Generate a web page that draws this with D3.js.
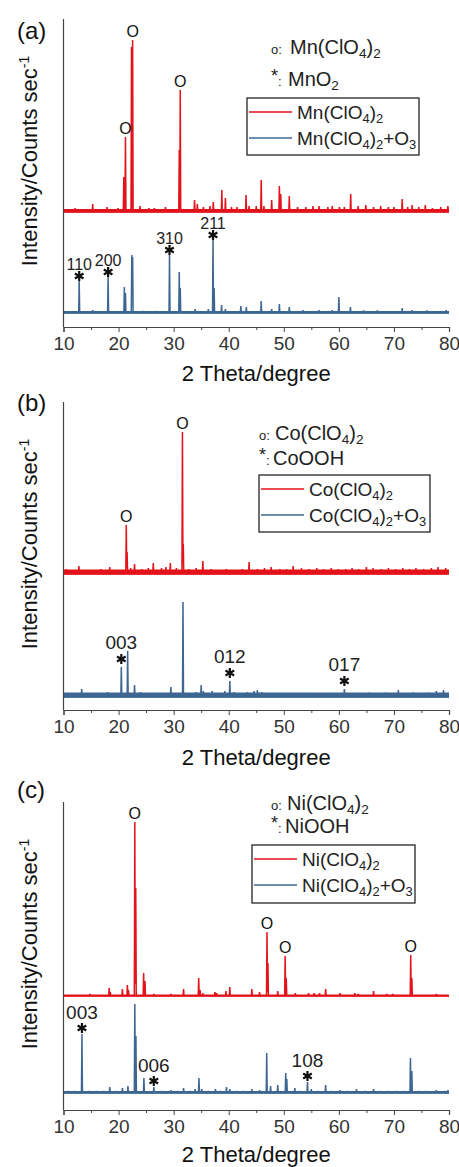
<!DOCTYPE html>
<html>
<head>
<meta charset="utf-8">
<script src="https://cdn.jsdelivr.net/npm/d3@7"></script>
<style>
  body { margin: 0; background: #fff; }
  svg { display: block; font-family: "Liberation Sans", Arial, sans-serif; }
</style>
</head>
<body>
<svg id="chart" width="459" height="1167"></svg>
<script>
// peaks: [2theta (deg), height above own baseline (counts)]
const mnPeaks = [[12.1,40],[13.4,30],[15.3,80],[17.9,50],[19.9,40],[20.95,350],[21.25,750],[22.35,1650],[22.55,1720],
  [23.9,60],[25.5,40],[26.5,40],[28.5,50],[31.02,620],[31.2,1220],[33.8,120],[34.3,80],[35.4,50],[36.6,60],[37.2,100],
  [38.75,220],[39.4,140],[40.5,50],[41.5,50],[43.15,170],[43.7,60],[45.0,60],[45.9,320],[46.4,60],[47.8,120],[49.2,260],
  [49.45,180],[51.0,160],[52.5,50],[54.0,50],[55.3,60],[56.4,60],[58.0,50],[58.8,60],[60.1,50],[61.0,50],[62.15,180],
  [63.5,60],[64.9,70],[66.3,50],[67.6,60],[69.0,50],[70.0,50],[71.5,130],[72.5,50],[73.3,70],[74.5,50],[75.7,70],
  [77.0,40],[78.5,50],[79.8,60]];
const mnO3Peaks = [[12.85,320],[15.3,30],[18.1,360],[21.05,260],[21.25,200],[22.4,580],[22.55,560],[24.5,20],[26.8,20],
  [29.25,580],[31.02,410],[31.2,250],[33.9,40],[36.3,40],[37.15,730],[37.35,250],[38.7,80],[39.4,40],[42.2,70],[43.2,60],
  [45.9,120],[47.8,40],[49.2,90],[51.0,60],[53.5,30],[56.4,30],[58.8,30],[60.0,160],[62.1,60],[64.5,25],[67.0,25],
  [71.5,50],[73.3,30],[76.0,25],[79.5,30]];
const coPeaks = [[10.5,50],[11.5,40],[12.8,80],[14.5,40],[16.8,50],[18.4,70],[19.5,40],[21.4,490],[21.55,220],[22.2,60],
  [22.9,100],[24.2,50],[25.4,60],[26.3,110],[27.8,60],[28.6,70],[29.4,110],[30.5,60],[31.6,1420],[31.75,300],[32.8,50],
  [34.1,60],[35.3,130],[36.8,50],[38.2,40],[39.6,50],[41.2,40],[42.5,50],[43.7,120],[45.2,50],[46.5,60],[47.7,70],
  [49.3,50],[50.5,50],[51.7,80],[53.2,60],[54.6,50],[56.0,60],[57.2,50],[58.6,60],[59.9,50],[61.3,50],[62.4,60],
  [63.6,50],[65.0,70],[66.2,60],[67.7,50],[69.0,60],[70.3,50],[71.6,60],[72.8,50],[74.0,60],[75.4,50],[76.8,60],
  [78.0,70],[79.4,60]];
const coO3Peaks = [[10.8,40],[12.0,40],[13.3,80],[14.6,40],[16.2,40],[18.0,50],[19.2,40],[20.5,300],[21.65,460],[22.9,120],
  [24.0,50],[25.6,40],[26.8,40],[28.0,40],[29.5,100],[30.4,40],[31.7,950],[33.0,40],[34.0,50],[35.0,120],[35.4,60],
  [37.0,60],[38.0,40],[39.3,60],[40.2,160],[41.0,50],[42.3,40],[43.4,50],[44.6,60],[45.2,70],[46.0,50],[47.4,40],
  [48.5,40],[50.0,40],[51.5,40],[53.0,40],[54.6,40],[56.2,40],[57.6,40],[59.0,40],[61.0,80],[62.5,40],[64.0,40],
  [65.5,45],[67.0,40],[68.5,45],[70.8,70],[72.0,40],[73.5,45],[75.0,40],[76.3,45],[77.7,60],[79.0,70]];
const niPeaks = [[14.8,20],[18.3,80],[18.5,40],[20.7,70],[21.6,110],[21.8,60],[22.95,1740],[23.12,1080],[24.55,230],
  [24.8,150],[26.4,20],[29.5,20],[31.8,70],[34.55,180],[34.8,60],[35.3,30],[37.5,40],[37.8,30],[39.5,50],[40.2,90],
  [44.2,70],[45.6,40],[46.95,640],[47.12,330],[48.9,50],[50.25,400],[50.45,180],[52.1,30],[54.5,30],[55.5,30],
  [56.5,30],[57.6,70],[60.2,30],[62.9,30],[63.5,20],[66.3,50],[68.7,20],[69.8,20],[73.05,410],[73.25,180],[77.7,20]];
const niO3Peaks = [[10.8,20],[12.0,20],[13.35,590],[14.7,20],[16.0,20],[17.3,20],[18.4,60],[19.5,20],[20.7,50],[21.7,70],
  [22.95,890],[23.15,570],[24.6,150],[26.4,60],[27.8,20],[29.5,30],[30.7,20],[31.8,50],[33.0,20],[33.9,40],[34.6,150],
  [35.1,40],[36.4,20],[37.6,40],[38.5,20],[39.6,60],[40.2,40],[41.5,20],[42.6,20],[44.2,40],[45.6,30],[46.9,400],
  [47.6,70],[48.9,80],[50.35,200],[50.55,140],[52.0,50],[53.0,20],[54.3,110],[55.0,40],[56.2,20],[57.6,80],[58.6,20],
  [60.2,30],[61.5,20],[63.2,40],[64.8,20],[66.3,40],[67.5,20],[69.0,20],[70.5,20],[71.8,20],[73.0,350],[73.25,220],
  [74.5,20],[75.8,20],[77.7,30],[79.2,20],[79.8,30]];

// "o" marks (precursor phase) and "*" marks with hkl (oxidised phase)
const mnCircles = [21.25, 22.55, 31.2];
const coCircles = [21.4, 31.6];
const niCircles = [22.95, 46.95, 50.25, 73.05];
const mnStars = [[12.85,'110'],[18.1,'200'],[29.25,'310'],[37.15,'211']];
const coStars = [[20.5,'003'],[40.2,'012'],[61.0,'017']];
const niStars = [[13.35,'003'],[26.4,'006'],[54.3,'108']];

const panelLetters = ['(a)', '(b)', '(c)'];
const sampleNames = [['Mn(ClO_4)_2', 'Mn(ClO_4)_2+O_3'], ['Co(ClO_4)_2', 'Co(ClO_4)_2+O_3'], ['Ni(ClO_4)_2', 'Ni(ClO_4)_2+O_3']];
const phaseNames = [['Mn(ClO_4)_2', 'MnO_2'], ['Co(ClO_4)_2', 'CoOOH'], ['Ni(ClO_4)_2', 'NiOOH']];
const xTicks = [10, 15, 20, 25, 30, 35, 40, 45, 50, 55, 60, 65, 70, 75, 80];
const xTitle = '2 Theta/degree';
const yTitle = 'Intensity/Counts sec';

const RED = '#e3131b', BLUE = '#3d6792';

// layout (pixels) per panel
const panels = [
  { top: 19, bottom: 327, letterY: 39, titleY: 381,
    series: [{ peaks: mnPeaks, off: 1150, band: 3.5, color: RED }, { peaks: mnO3Peaks, off: 140, band: 2.5, color: BLUE }],
    circles: mnCircles, stars: mnStars, starDy: 5, hklDy: 17, hklSize: 16,
    key: { x0: 271, x1: 290, y: [54, 86] }, box: { x: 247, y: 98, w: 172, h: 57 } },
  { top: 402, bottom: 710, letterY: 411, titleY: 765,
    series: [{ peaks: coPeaks, off: 1360, band: 5, color: RED }, { peaks: coO3Peaks, off: 130, band: 5, color: BLUE }],
    circles: coCircles, stars: coStars, starDy: 8, hklDy: 25, hklSize: 19,
    key: { x0: 259, x1: 275, y: [440, 465] }, box: { x: 259, y: 475, w: 171, h: 57 } },
  { top: 802, bottom: 1110, letterY: 798, titleY: 1162,
    series: [{ peaks: niPeaks, off: 1140, band: 2, color: RED }, { peaks: niO3Peaks, off: 170, band: 2.5, color: BLUE }],
    circles: niCircles, stars: niStars, starDy: 6, hklDy: 22, hklSize: 19,
    key: { x0: 271, x1: 287, y: [810, 833] }, box: { x: 252, y: 845, w: 163, h: 58 } }
];

const svg = d3.select('#chart');
const x = d3.scaleLinear().domain([10, 80]).range([63.5, 449]);
const W = 0.09; // half base width of a peak, deg

// text with _X subscripts
function chem(sel, str, size) {
  let buf = '';
  const flush = () => { if (buf) { sel.append('tspan').text(buf); buf = ''; } };
  for (let i = 0; i < str.length; i++) {
    if (str[i] === '_') {
      flush();
      sel.append('tspan').attr('font-size', size * 0.68).attr('baseline-shift', -size * 0.2).text(str[i + 1]);
      i++;
    } else buf += str[i];
  }
  flush();
}

function profile(peaks) {
  const xs = [10, 80];
  peaks.forEach(([p]) => xs.push(p - W, p, p + W));
  xs.sort((a, b) => a - b);
  return xs.filter(v => v >= 10 && v <= 80)
    .map(v => [v, d3.max(peaks, ([p, h]) => Math.max(0, h * (1 - Math.abs(v - p) / W)))]);
}

function peakTop(peaks, pos) {
  return d3.least(peaks, d => Math.abs(d[0] - pos));
}

panels.forEach((P, i) => {
  const g = svg.append('g');
  const y = d3.scaleLinear().domain([0, (P.bottom - P.top) * 10]).range([P.bottom, P.top]);

  // data
  P.series.forEach(s => {
    g.append('line')
      .attr('x1', x(10)).attr('x2', x(80))
      .attr('y1', y(s.off) - s.band / 2 + 0.5).attr('y2', y(s.off) - s.band / 2 + 0.5)
      .attr('stroke', s.color).attr('stroke-width', s.band);
    const line = d3.line().x(d => x(d[0])).y(d => y(s.off + d[1]));
    g.append('path')
      .attr('d', line(profile(s.peaks)))
      .attr('fill', 'none').attr('stroke', s.color).attr('stroke-width', 1.5)
      .attr('stroke-linejoin', 'miter');
  });

  // axes
  g.append('line').attr('x1', x(10)).attr('x2', x(10)).attr('y1', P.top).attr('y2', P.bottom)
    .attr('stroke', '#444').attr('stroke-width', 1.2);
  const ax = g.append('g').attr('transform', `translate(0,${P.bottom})`)
    .call(d3.axisBottom(x).tickValues(xTicks).tickSize(5).tickPadding(5)
      .tickFormat(d => d % 10 === 0 ? d : ''));
  ax.select('.domain').attr('stroke', '#444').attr('stroke-width', 1.2);
  ax.selectAll('.tick line').attr('stroke', '#444').attr('y2', d => d % 10 === 0 ? 5 : 3);
  ax.selectAll('.tick text').attr('font-size', 19).attr('fill', '#333')
    .attr('font-family', '"Liberation Sans", Arial, sans-serif');

  g.append('text').attr('x', (x(10) + x(80)) / 2).attr('y', P.titleY)
    .attr('text-anchor', 'middle').attr('font-size', 22).attr('fill', '#111').text(xTitle);

  const yl = g.append('text')
    .attr('transform', `translate(37,${(P.top + P.bottom) / 2 - 12}) rotate(-90)`)
    .attr('text-anchor', 'middle').attr('font-size', 22).attr('fill', '#111');
  yl.append('tspan').text(yTitle);
  yl.append('tspan').attr('font-size', 14).attr('baseline-shift', 8).text('-1');

  g.append('text').attr('x', 17).attr('y', P.letterY).attr('font-size', 24).attr('fill', '#111')
    .text(panelLetters[i]);

  // "o" marks on the first series
  const red = P.series[0];
  P.circles.forEach(pos => {
    const pk = peakTop(red.peaks, pos);
    g.append('text').attr('x', x(pk[0])).attr('y', y(red.off + pk[1]) - 3.5)
      .attr('text-anchor', 'middle').attr('font-size', 16).attr('fill', '#111').text('O');
  });

  // "*" marks with hkl on the second series
  const blue = P.series[1];
  P.stars.forEach(([pos, hkl]) => {
    const pk = peakTop(blue.peaks, pos);
    const top = y(blue.off + pk[1]);
    g.append('path')
      .attr('transform', `translate(${x(pk[0])},${top - P.starDy})`)
      .attr('d', d3.symbol(d3.symbolAsterisk, 70)())
      .attr('fill', 'none').attr('stroke', '#111').attr('stroke-width', 2.2);
    g.append('text').attr('x', x(pk[0])).attr('y', top - P.hklDy + P.hklSize * 0.36)
      .attr('text-anchor', 'middle').attr('font-size', P.hklSize).attr('fill', '#222').text(hkl);
  });

  // phase key
  const k = P.key;
  g.append('text').attr('x', k.x0).attr('y', k.y[0]).attr('font-size', 13).attr('fill', '#222').text('o:');
  g.append('text').attr('x', k.x0).attr('y', k.y[1]).attr('font-size', 13).attr('fill', '#222')
    .call(t => { t.append('tspan').attr('font-size', 18).attr('dy', -4).text('*'); t.append('tspan').attr('dy', 4).text(':'); });
  phaseNames[i].forEach((name, j) => {
    const t = g.append('text').attr('x', k.x1 - (j ? 2 : 0)).attr('y', k.y[j]).attr('font-size', 20).attr('fill', '#222');
    chem(t, name, 20);
  });

  // legend box
  const b = P.box;
  g.append('rect').attr('x', b.x).attr('y', b.y).attr('width', b.w).attr('height', b.h)
    .attr('fill', '#fff').attr('stroke', '#111').attr('stroke-width', 1.2);
  sampleNames[i].forEach((name, j) => {
    const ry = b.y + 14 + j * 26;
    g.append('line').attr('x1', b.x + 2).attr('x2', b.x + 45).attr('y1', ry).attr('y2', ry)
      .attr('stroke', P.series[j].color).attr('stroke-width', 1.6);
    const t = g.append('text').attr('x', b.x + 50).attr('y', ry + 7).attr('font-size', 19).attr('fill', '#222');
    chem(t, name, 19);
  });
});
</script>
</body>
</html>
